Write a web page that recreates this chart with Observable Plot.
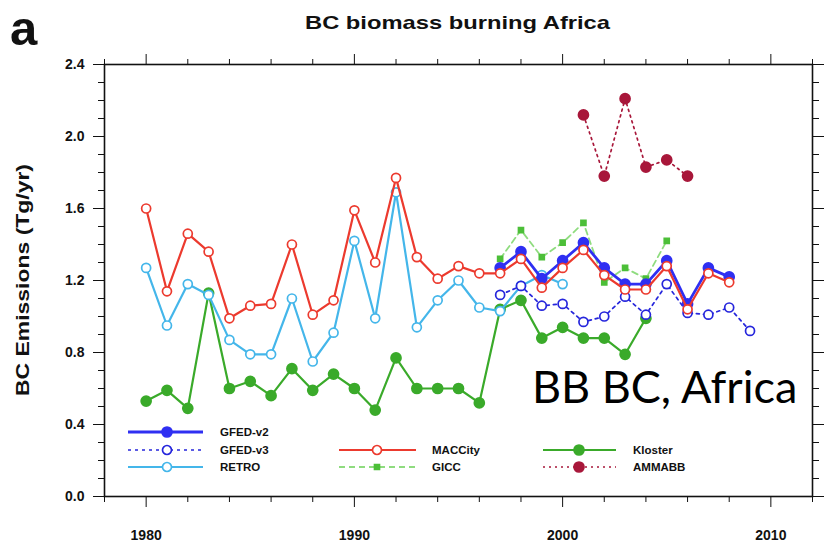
<!DOCTYPE html>
<html><head><meta charset="utf-8">
<script src="https://cdn.jsdelivr.net/npm/d3@7"></script>
<script src="https://cdn.jsdelivr.net/npm/@observablehq/plot@0.6"></script>
<style>
body{margin:0;background:#fff;}
#wrap{position:relative;width:826px;height:550px;}
</style></head><body><div id="wrap"></div>
<script>
// ---- data (Tg/yr) ----
const yearsMACCity = d3.range(1980, 2009);
const valsMACCity = [1.60,1.14,1.46,1.36,0.99,1.06,1.07,1.40,1.01,1.09,1.59,1.30,1.77,1.33,1.21,1.28,1.24,1.24,1.32,1.16,1.27,1.37,1.23,1.15,1.15,1.28,1.04,1.24,1.19];
const yearsRETRO = d3.range(1980, 2001);
const valsRETRO = [1.27,0.95,1.18,1.12,0.87,0.79,0.79,1.10,0.75,0.91,1.42,0.99,1.69,0.94,1.09,1.20,1.05,1.03,1.17,1.23,1.18];
const yearsKloster = d3.range(1980, 2005);
const valsKloster = [0.53,0.59,0.49,1.13,0.60,0.64,0.56,0.71,0.59,0.68,0.60,0.48,0.77,0.60,0.60,0.60,0.52,1.04,1.09,0.88,0.94,0.88,0.88,0.79,0.99];
const yearsGFEDv2 = d3.range(1997, 2009);
const valsGFEDv2 = [1.27,1.36,1.21,1.31,1.41,1.27,1.18,1.18,1.31,1.07,1.27,1.22];
const yearsGFEDv3 = d3.range(1997, 2010);
const valsGFEDv3 = [1.12,1.17,1.06,1.07,0.97,1.00,1.11,1.01,1.18,1.02,1.01,1.05,0.92];
const yearsGICC = d3.range(1997, 2006);
const valsGICC = [1.32,1.48,1.33,1.41,1.52,1.19,1.27,1.21,1.42];
const yearsAMMABB = d3.range(2001, 2007);
const valsAMMABB = [2.12,1.78,2.21,1.83,1.87,1.78];

const xMajor = [1980, 1990, 2000, 2010];
const xMinor = d3.range(1978, 2013, 2).filter(d => !xMajor.includes(d));
const yMajor = [0, 0.4, 0.8, 1.2, 1.6, 2.0, 2.4];
const yMinor = d3.range(1, 24).map(d => d / 10).filter(d => Math.round(d * 10) % 4 !== 0);

const titleText = "BC biomass burning Africa";
const panelLabel = "a";
const yLabel = "BC Emissions (Tg/yr)";
const annotation = "BB BC, Africa";

const tbl = (ys, vs) => ys.map((y, i) => ({year: y, v: vs[i]}));

const C = {
  GFEDv2: "#2f2ff2", GFEDv3: "#2626dc", RETRO: "#44b6ea", MACCity: "#ec3a2e",
  GICC: "#4cbf38", GICCline: "#8fdc7f", Kloster: "#3aaa2a", AMMABB: "#a8173a"
};

const series = [
  {name: "Kloster", data: tbl(yearsKloster, valsKloster), stroke: C.Kloster, sw: 2.2, dash: null, sym: "circle", r: 5, fill: C.Kloster},
  {name: "RETRO", data: tbl(yearsRETRO, valsRETRO), stroke: C.RETRO, sw: 2.2, dash: null, sym: "circle", r: 4.5, fill: "white"},
  {name: "GICC", data: tbl(yearsGICC, valsGICC), stroke: C.GICCline, sw: 1.8, dash: "6,4", sym: "square", r: 2.8, fill: C.GICC, mstroke: C.GICC},
  {name: "GFED-v3", data: tbl(yearsGFEDv3, valsGFEDv3), stroke: C.GFEDv3, sw: 1.7, dash: "3,4", sym: "circle", r: 4.5, fill: "white"},
  {name: "GFED-v2", data: tbl(yearsGFEDv2, valsGFEDv2), stroke: C.GFEDv2, sw: 2.8, dash: null, sym: "circle", r: 5, fill: C.GFEDv2},
  {name: "MACCity", data: tbl(yearsMACCity, valsMACCity), stroke: C.MACCity, sw: 2.2, dash: null, sym: "circle", r: 4.5, fill: "white"},
  {name: "AMMABB", data: tbl(yearsAMMABB, valsAMMABB), stroke: C.AMMABB, sw: 1.7, dash: "2,4", sym: "circle", r: 5, fill: C.AMMABB}
];

const marks = [];
for (const s of series) {
  marks.push(Plot.line(s.data, {x: "year", y: "v", stroke: s.stroke, strokeWidth: s.sw, strokeDasharray: s.dash}));
  marks.push(Plot.dot(s.data, {x: "year", y: "v", symbol: s.sym, r: s.r, fill: s.fill, stroke: s.mstroke || s.stroke, strokeWidth: 1.7}));
}

const axisStyle = {fontWeight: "bold"};
const chart = Plot.plot({
  width: 826, height: 550,
  marginLeft: 104, marginRight: 14, marginTop: 64, marginBottom: 54,
  style: {fontFamily: "'Liberation Sans', Arial, sans-serif", fontSize: "14px", background: "white", color: "#111", overflow: "visible"},
  x: {domain: [1978, 2012]},
  y: {domain: [0, 2.4]},
  marks: [
    ...marks,
    Plot.frame({stroke: "#111", strokeWidth: 1.6}),
    Plot.axisX({anchor: "bottom", ticks: xMajor, tickSize: 11, tickPadding: 23, tickFormat: d => String(d), label: null, ...axisStyle}),
    Plot.axisX({anchor: "bottom", ticks: xMinor, tickSize: 6, tickFormat: () => "", label: null}),
    Plot.axisX({anchor: "top", ticks: xMajor, tickSize: 11, tickFormat: () => "", label: null}),
    Plot.axisX({anchor: "top", ticks: xMinor, tickSize: 6, tickFormat: () => "", label: null}),
    Plot.axisY({anchor: "left", ticks: yMajor, tickSize: 11, tickPadding: 9, tickFormat: d => d.toFixed(1), label: null, ...axisStyle}),
    Plot.axisY({anchor: "left", ticks: yMinor, tickSize: 6, tickFormat: () => "", label: null}),
    Plot.axisY({anchor: "right", ticks: yMajor, tickSize: 11, tickFormat: () => "", label: null}),
    Plot.axisY({anchor: "right", ticks: yMinor, tickSize: 6, tickFormat: () => "", label: null})
  ]
});

const svg = d3.select(chart);
const FF = "'Liberation Sans', Arial, sans-serif";
// titles / annotations
svg.append("text").attr("x", 10).attr("y", 45).attr("text-anchor", "start").attr("font-size", 49).attr("font-weight", "bold")
  .attr("font-family", FF).attr("fill", "#111").text(panelLabel);
svg.append("text").attr("x", 305).attr("y", 29).attr("text-anchor", "start").attr("font-size", 19).attr("font-weight", "bold")
  .attr("textLength", 305).attr("lengthAdjust", "spacingAndGlyphs")
  .attr("font-family", FF).attr("fill", "#111").text(titleText);
svg.append("text").attr("transform", "translate(29,396) rotate(-90)").attr("text-anchor", "start").attr("font-size", 18).attr("font-weight", "bold")
  .attr("textLength", 232).attr("lengthAdjust", "spacingAndGlyphs")
  .attr("font-family", FF).attr("fill", "#111").text(yLabel);
svg.append("text").attr("x", 532).attr("y", 403).attr("text-anchor", "start").attr("font-size", 45)
  .attr("font-family", "Lato, 'Open Sans', sans-serif").attr("fill", "#000").text(annotation);

// legend
const legendItems = [
  {label: "GFED-v2", col: 0, row: 0, ...series[4]},
  {label: "GFED-v3", col: 0, row: 1, ...series[3]},
  {label: "RETRO", col: 0, row: 2, ...series[1]},
  {label: "MACCity", col: 1, row: 1, ...series[5]},
  {label: "GICC", col: 1, row: 2, ...series[2]},
  {label: "Kloster", col: 2, row: 1, ...series[0]},
  {label: "AMMABB", col: 2, row: 2, ...series[6]}
];
const cols = [{x0: 128, x1: 203, m: 167, lx: 220}, {x0: 339, x1: 416, m: 377, lx: 432}, {x0: 543, x1: 616, m: 579, lx: 633}];
const rows = [432, 450, 467];
const lg = svg.append("g");
const sym = {circle: d3.symbolCircle, square: d3.symbolSquare};
for (const it of legendItems) {
  const c = cols[it.col], y = rows[it.row];
  lg.append("line").attr("x1", c.x0).attr("x2", c.x1).attr("y1", y).attr("y2", y)
    .attr("stroke", it.stroke).attr("stroke-width", it.sw).attr("stroke-dasharray", it.dash);
  lg.append("path").attr("transform", `translate(${c.m},${y})`)
    .attr("d", d3.symbol(sym[it.sym], Math.PI * it.r * it.r)())
    .attr("fill", it.fill).attr("stroke", it.mstroke || it.stroke).attr("stroke-width", 1.7);
  lg.append("text").attr("x", c.lx).attr("y", y + 4).attr("text-anchor", "start").attr("font-size", 11.5).attr("font-weight", "bold")
    .attr("font-family", FF).attr("fill", "#111").text(it.label);
}

document.getElementById("wrap").appendChild(chart);
</script>
</body></html>
